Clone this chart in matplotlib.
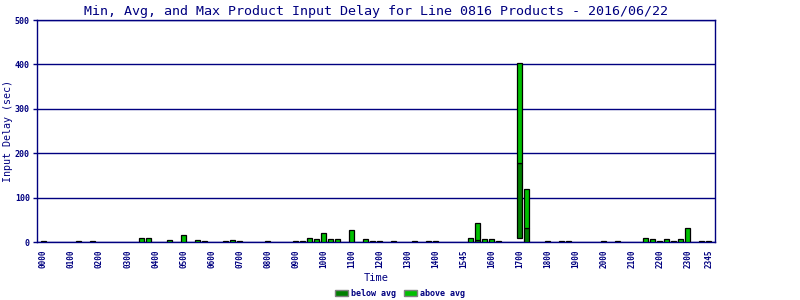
import matplotlib
matplotlib.use("Agg")
import matplotlib.pyplot as plt
from matplotlib.patches import Patch
import numpy as np

# one category per 15 minutes over the day
slots = [f"{h:02d}{m:02d}" for h in range(24) for m in (0, 15, 30, 45)]

tick_labels = ["0000", "0100", "0200", "0300", "0400", "0500", "0600", "0700",
               "0800", "0900", "1000", "1100", "1200", "1300", "1400", "1545",
               "1600", "1700", "1800", "1900", "2000", "2100", "2200", "2300",
               "2345"]

# slots with products, and the min / avg / max input delay (sec)
times = ["0000", "0115", "0145", "0330", "0345", "0430", "0500", "0530",
         "0545", "0630", "0645", "0700", "0800", "0900", "0915", "0930",
         "0945", "1000", "1015", "1030", "1100", "1130", "1145", "1200",
         "1230", "1315", "1345", "1400", "1515", "1530", "1545", "1600",
         "1615", "1700", "1715", "1800", "1830", "1845", "2000", "2030",
         "2130", "2145", "2200", "2215", "2230", "2245", "2300", "2330",
         "2345"]
max_delay = [2, 2, 2, 9, 9, 4.5, 16, 4.5,
             2, 2, 5, 2, 2, 2, 2, 9,
             7, 20, 7, 7, 27, 7, 2, 2,
             2, 2, 2, 2, 9, 43.5, 7, 7,
             2, 403, 119, 2, 2, 2, 2, 2,
             10, 7, 2, 7, 2, 7, 31.5, 2,
             2]
avg_delay = [1, 1, 1, 1, 1, 1, 1, 1,
             1, 1, 1, 1, 1, 1, 1, 1,
             1, 1, 1, 1, 1, 1, 1, 1,
             1, 1, 1, 1, 1, 5, 1, 1,
             1, 179, 31.5, 1, 1, 1, 1, 1,
             1, 1, 1, 1, 1, 1, 1, 1,
             1]
min_delay = [0] * 33 + [9] + [0] * 15

navy = "#000080"
dark_green = "#008000"
light_green = "#00c000"
mono = "DejaVu Sans Mono"

x = np.array([slots.index(t) for t in times])
mn = np.array(min_delay, dtype=float)
av = np.array(avg_delay, dtype=float)
mx = np.array(max_delay, dtype=float)

fig = plt.figure(figsize=(8, 3), dpi=100)
ax = fig.add_axes([0.046, 0.193, 0.848, 0.74])

ax.bar(x, av - mn, bottom=mn, width=0.72, color=dark_green,
       edgecolor="black", linewidth=0.9, zorder=3)
ax.bar(x, mx - av, bottom=av, width=0.72, color=light_green,
       edgecolor="black", linewidth=0.9, zorder=3)

ax.set_xlim(-0.95, 95.9)
ax.set_ylim(0, 500)
ax.set_yticks([0, 100, 200, 300, 400, 500])
ax.yaxis.grid(True, color=navy, linewidth=1.0, zorder=1)

tick_pos = list(range(0, 96, 4)) + [95]
ax.set_xticks(tick_pos)
ax.set_xticklabels(tick_labels, rotation=90, family=mono, fontsize=5.5,
                   fontweight="bold", color=navy)
ax.tick_params(axis="x", length=0, pad=5)
ax.tick_params(axis="y", length=3, width=1, color=navy, labelsize=6,
               labelcolor=navy, pad=2)
for lbl in ax.get_yticklabels():
    lbl.set_family(mono)
    lbl.set_fontweight("bold")

for s in ax.spines.values():
    s.set_color(navy)
    s.set_linewidth(1.0)

ax.set_xlabel("Time", family=mono, fontsize=7.5, color=navy, labelpad=4)
ax.set_ylabel("Input Delay (sec)", family=mono, fontsize=7.2, color=navy,
              labelpad=1)
fig.text(0.47, 0.963, "Min, Avg, and Max Product Input Delay for Line 0816 "
         "Products - 2016/06/22", family=mono, fontsize=9.6, color=navy,
         ha="center", va="center")

handles = [Patch(facecolor=dark_green, edgecolor="gray", label="below avg"),
           Patch(facecolor=light_green, edgecolor="gray", label="above avg")]
leg = fig.legend(handles=handles, loc="center", bbox_to_anchor=(0.5, 0.022),
                 ncol=2, frameon=False, handlelength=1.6, handleheight=0.8,
                 handletextpad=0.3, columnspacing=1.0,
                 prop={"family": mono, "size": 6, "weight": "bold"})
for t in leg.get_texts():
    t.set_color(navy)

fig.savefig("out.png", dpi=100)
